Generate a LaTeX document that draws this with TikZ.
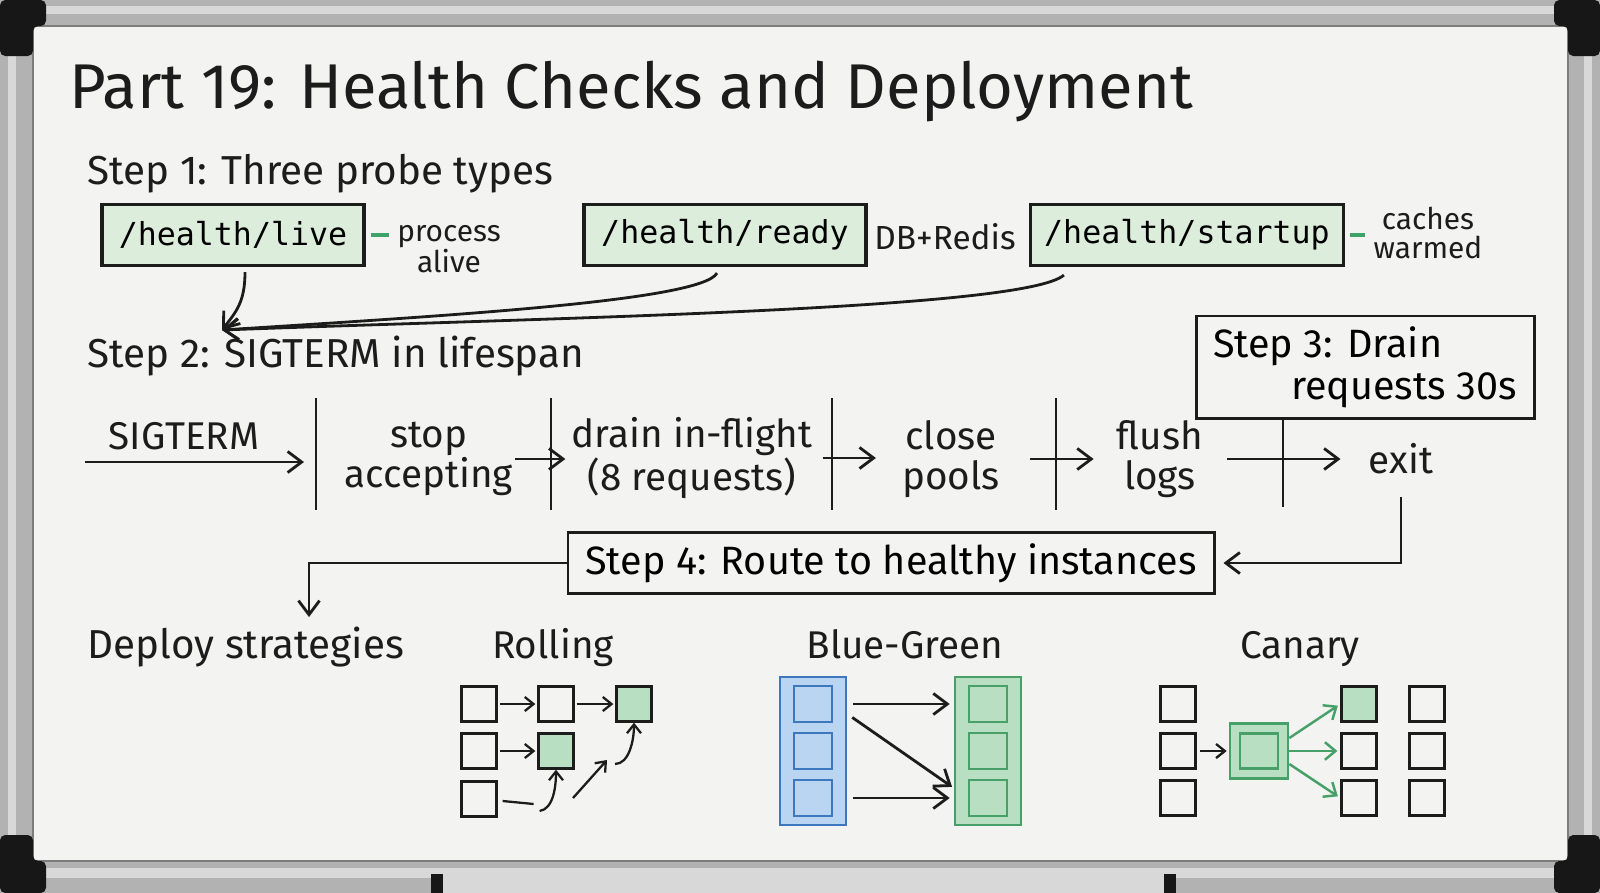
\documentclass[tikz,border=0pt]{standalone}
\usepackage{fontspec}
\setmainfont{Fira Sans}
\newfontfamily\probemono{DejaVu Sans Mono}
\usetikzlibrary{positioning, calc, arrows.meta}
\definecolor{BoardInk}{HTML}{1C1C1C}
\definecolor{BoardWhite}{HTML}{F3F3F1}
\definecolor{FrameGray}{HTML}{B2B2B2}
\definecolor{FrameLight}{HTML}{D8D8D8}
\definecolor{FrameDark}{HTML}{171717}
\definecolor{ProbeFill}{HTML}{DCEDDC}
\definecolor{TieGreen}{HTML}{3FA266}
\definecolor{NewFill}{HTML}{B8DFC1}
\definecolor{NewLine}{HTML}{46A068}
\definecolor{OldFill}{HTML}{B9D5F2}
\definecolor{OldLine}{HTML}{3D78BE}
\newlength\pxu
\setlength\pxu{0.02cm}

\begin{document}
\begin{tikzpicture}[x=0.02cm, y=-0.02cm,
    ink/.style={draw=BoardInk, line width=1.6pt},
    flow/.style={ink, -{Straight Barb[length=8pt, width=12pt]}},
    small/.style={draw=BoardInk, line width=1.3pt, -{Straight Barb[length=5pt, width=8pt]}},
    canflow/.style={draw=NewLine, line width=1.4pt, -{Straight Barb[length=6pt, width=10pt]}, shorten >=3\pxu},
    title/.style={font=\fontsize{36}{40}\selectfont, text=BoardInk, anchor=base west, inner sep=0pt},
    steplabel/.style={font=\fontsize{23}{26}\selectfont, text=BoardInk, anchor=base west, inner sep=0pt},
    stratlabel/.style={font=\fontsize{22}{24}\selectfont, text=BoardInk, anchor=base, inner sep=0pt},
    probe/.style={draw=BoardInk, line width=1.8pt, fill=ProbeFill, font=\probemono\fontsize{18}{20}\selectfont, minimum height=61\pxu, inner sep=0pt},
    note/.style={font=\fontsize{17}{16}\selectfont, text=BoardInk, align=center, inner sep=0pt},
    tie/.style={draw=TieGreen, line width=2pt, shorten <=5\pxu, shorten >=8\pxu},
    stage/.style={font=\fontsize{22}{23}\selectfont, text=BoardInk, align=center, inner sep=0pt},
    stepbox/.style={draw=BoardInk, line width=1.7pt, fill=BoardWhite, font=\fontsize{22.5}{24}\selectfont, inner sep=0pt},
    inst/.style={draw=BoardInk, line width=1.3pt, fill=BoardWhite, minimum size=35\pxu, inner sep=0pt},
    instnew/.style={inst, fill=NewFill},
    pool/.style={line width=1.5pt, minimum width=66\pxu, minimum height=148\pxu, inner sep=0pt},
    slot/.style={line width=1.5pt, minimum width=38\pxu, minimum height=36\pxu, inner sep=0pt}]

  % Whiteboard frame
  \fill[FrameGray] (0,0) rectangle (1600,893);
  \fill[FrameLight] (0,6) rectangle (1600,14);
  \fill[FrameLight] (0,868) rectangle (1600,878);
  \fill[FrameLight] (8,0) rectangle (16,893);
  \fill[FrameLight] (1584,0) rectangle (1592,893);
  \fill[BoardWhite] (33,26) rectangle (1568,861);
  \draw[FrameGray!70!black, line width=0.6pt] (33,26) rectangle (1568,861);
  \fill[FrameDark, rounded corners=3pt] (0,0) -- (46,0) -- (46,26) -- (33,26) -- (33,56) -- (0,56) -- cycle;
  \fill[FrameDark, rounded corners=3pt] (1600,0) -- (1554,0) -- (1554,26) -- (1568,26) -- (1568,56) -- (1600,56) -- cycle;
  \fill[FrameDark, rounded corners=3pt] (0,893) -- (46,893) -- (46,861) -- (33,861) -- (33,835) -- (0,835) -- cycle;
  \fill[FrameDark, rounded corners=3pt] (1600,893) -- (1554,893) -- (1554,861) -- (1568,861) -- (1568,835) -- (1600,835) -- cycle;
  \fill[FrameLight] (434,877) rectangle (1173,893);
  \fill[FrameDark] (431,874) rectangle (443,893);
  \fill[FrameDark] (1164,874) rectangle (1176,893);

  % Title
  \node[title] (title) at (69,108) {Part 19: Health Checks and Deployment};

  % Step 1: probes
  \node[steplabel] (step1) at (87,184) {Step 1: Three probe types};
  \node[probe, minimum width=262\pxu] (live) at (233,235) {/health/live};
  \node[probe, minimum width=282\pxu] (ready) at (725,235) {/health/ready};
  \node[probe, minimum width=313\pxu] (startup) at (1187,235) {/health/startup};
  \node[note] (livenote) at (449,249) {process\\alive};
  \node[note, font=\fontsize{19}{20}\selectfont] (readynote) at (945,237) {DB+Redis};
  \node[note] (startnote) at (1428,233) {caches\\warmed};
  \draw[tie] (live.east) -- (live.east -| livenote.west);
  \draw[tie] (startup.east) -- (startup.east -| startnote.west);

  \coordinate (probetip) at (222,330);
  \draw[flow] ([xshift=12\pxu, yshift=-5\pxu]live.south) .. controls +(0,30) and +(14,-18) .. (probetip);
  \draw[flow] ([xshift=-8\pxu, yshift=-6\pxu]ready.south) .. controls +(-15,28) and +(220,-14) .. (probetip);
  \draw[flow] ([xshift=35\pxu, yshift=-8\pxu]startup.south west) .. controls +(-40,35) and +(320,-12) .. (probetip);

  % Step 2: shutdown sequence
  \node[steplabel] (step2) at (87,367) {Step 2: SIGTERM in lifespan};
  \node[stepbox, minimum width=338\pxu, minimum height=102\pxu, align=left] (step3) at (1365,367) {Step 3: Drain\\\hspace*{78\pxu}requests 30s};

  \node[stage] (sig) at (184,436) {SIGTERM};
  \node[stage] (stop) at (429,459) {stop\\accepting};
  \node[stage] (drain) at (692,458) {drain in-flight\\(8 requests)};
  \node[stage] (close) at (951,459) {close\\pools};
  \node[stage] (flush) at (1160,459) {flush\\logs};
  \node[stage] (exit) at (1401,459) {exit};

  \foreach \bx in {316, 551, 832, 1056}
    \draw[ink] (\bx,398) -- (\bx,510);
  \coordinate (barend) at (1283,507);
  \draw[ink] (step3.south -| barend) -- (barend);

  \coordinate (sigin) at (85,462);
  \coordinate (sigout) at (304,462);
  \draw[flow] (sigin) -- (sigout);
  \draw[flow, shorten <=2\pxu, shorten >=6\pxu] (stop.east) -- (stop.east -| drain.west);
  \draw[flow, shorten <=10\pxu, shorten >=26\pxu] (drain.east) -- (drain.east -| close.west);
  \draw[flow, shorten <=30\pxu, shorten >=23\pxu] (close.east) -- (close.east -| flush.west);
  \draw[flow, shorten <=24\pxu, shorten >=28\pxu] (flush.east) -- (flush.east -| exit.west);

  % Step 4: routing
  \node[stepbox, minimum width=646\pxu, minimum height=61\pxu] (step4) at (891,563) {Step 4: Route to healthy instances};
  \draw[flow, shorten <=22\pxu, shorten >=8\pxu] (exit.south) |- (step4.east);
  \coordinate (deploydrop) at (309,617);
  \draw[flow] (step4.west) -| (deploydrop);

  % Deploy strategies
  \node[steplabel] (deploy) at (87,658) {Deploy strategies};
  \node[stratlabel] (rolling) at (553,658) {Rolling};
  \node[stratlabel] (bluegreen) at (905,658) {Blue-Green};
  \node[stratlabel] (canarylabel) at (1300,658) {Canary};

  % Rolling
  \node[inst] (r11) at (479,704) {};
  \node[inst] (r12) at (556,704) {};
  \node[instnew] (r13) at (634,704) {};
  \node[inst] (r21) at (479,751) {};
  \node[instnew] (r22) at (556,751) {};
  \node[inst] (r31) at (479,799) {};
  \draw[small, shorten <=2\pxu, shorten >=2\pxu] (r11) -- (r12);
  \draw[small, shorten <=2\pxu, shorten >=2\pxu] (r12) -- (r13);
  \draw[small, shorten <=2\pxu, shorten >=2\pxu] (r21) -- (r22);
  \draw[draw=BoardInk, line width=1.3pt] ([xshift=5\pxu, yshift=-2\pxu]r31.east) -- ++(31,3);
  \draw[small] ([xshift=42\pxu, yshift=-12\pxu]r31.east) .. controls +(14,-2) and +(0,16) .. (r22.south);
  \coordinate (rdiagA) at (573,798);
  \coordinate (rdiagB) at (607,760);
  \draw[small] (rdiagA) -- (rdiagB);
  \coordinate (rhook) at (615,764);
  \draw[small] (rhook) .. controls +(14,0) and +(0,18) .. (r13.south);

  % Blue-Green
  \node[pool, draw=OldLine, fill=OldFill] (blue) at (813,751) {};
  \node[pool, draw=NewLine, fill=NewFill] (green) at (988,751) {};
  \foreach \i/\y in {1/704, 2/751, 3/798} {
    \node[slot, draw=OldLine, fill=OldFill] (b\i) at (813,\y) {};
    \node[slot, draw=NewLine, fill=NewFill] (g\i) at (988,\y) {};
  }
  \draw[flow, shorten <=6\pxu, shorten >=4\pxu] (blue.east |- b1) -- (green.west |- g1);
  \draw[flow, shorten <=6\pxu, shorten >=2\pxu] ([yshift=-10\pxu]blue.east |- b1) -- ([yshift=10\pxu]green.west |- g3);
  \draw[flow, shorten <=6\pxu, shorten >=4\pxu] (blue.east |- b3) -- (green.west |- g3);

  % Canary
  \foreach \i/\y in {1/704, 2/751, 3/798} {
    \node[inst] (c1\i) at (1178,\y) {};
    \node[inst] (c4\i) at (1427,\y) {};
  }
  \node[instnew] (c31) at (1359,704) {};
  \node[inst] (c32) at (1359,751) {};
  \node[inst] (c33) at (1359,798) {};
  \node[draw=NewLine, fill=NewFill, line width=1.5pt, minimum width=58\pxu, minimum height=55\pxu, inner sep=0pt] (canary) at (1259,751) {};
  \node[slot, draw=NewLine, fill=NewFill, minimum height=35\pxu] (canaryin) at (1259,751) {};
  \draw[small, shorten <=3\pxu, shorten >=2\pxu] (c12) -- (canary);
  \draw[canflow] ([yshift=13\pxu]canary.east) -- (c31.west);
  \draw[canflow] (canary.east) -- (c32.west);
  \draw[canflow] ([yshift=-13\pxu]canary.east) -- (c33.west);
\end{tikzpicture}
\end{document}
